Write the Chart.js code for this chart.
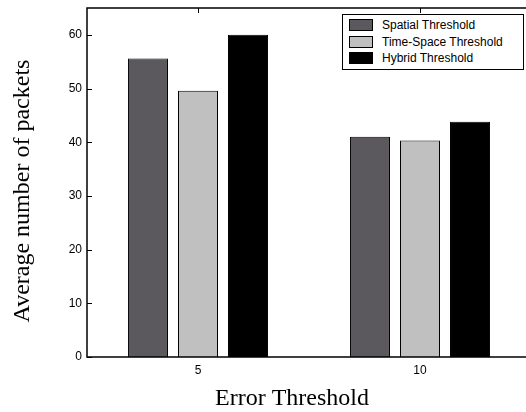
<!DOCTYPE html>
<html>
<head>
<meta charset="utf-8">
<script src="https://cdn.jsdelivr.net/npm/chart.js@4/dist/chart.umd.min.js"></script>
<style>
  html, body { margin: 0; padding: 0; background: #fff; overflow: hidden; }
  #wrap { position: relative; width: 526px; height: 412px; overflow: hidden; }
  #wrap canvas { position: absolute; left: 0; top: 0; }
  .legend {
    position: absolute; left: 342px; top: 14px; width: 182px; height: 56px;
    box-sizing: border-box; border: 1px solid #000; background: #fff;
    font: 12px "Liberation Sans", Arial, sans-serif; color: #000;
  }
  .legend .row { position: absolute; left: 6px; height: 14px; line-height: 14px; white-space: nowrap; }
  .legend .sw { display: inline-block; width: 24px; height: 12px; box-sizing: border-box;
    border: 1px solid #000; vertical-align: top; margin-top: 1px; margin-right: 9px; }
</style>
</head>
<body>
<div id="wrap">
  <canvas id="chart" width="536" height="412"></canvas>
  <div class="legend" id="legend"></div>
</div>
<script>
// ─── data
const categories = ['5', '10'];
const seriesNames = ['Spatial Threshold', 'Time-Space Threshold', 'Hybrid Threshold'];
const spatial   = [55.6, 41.0];
const timeSpace = [49.6, 40.3];
const hybrid    = [60.0, 43.8];
const yTicks = [0, 10, 20, 30, 40, 50, 60];

const colors = ['#5b595e', '#c0c0c0', '#000000'];
const seriesValues = [spatial, timeSpace, hybrid];

// frame, inward ticks and axis titles
const framePlugin = {
  id: 'frame',
  afterDraw(chart) {
    const { ctx, chartArea: a, scales } = chart;
    ctx.save();
    ctx.strokeStyle = '#000';
    ctx.lineWidth = 1.5;
    ctx.strokeRect(a.left, a.top, a.right - a.left, a.bottom - a.top);

    ctx.lineWidth = 1;
    ctx.beginPath();
    yTicks.forEach(v => {
      const y = Math.round(scales.y.getPixelForValue(v)) + 0.5;
      ctx.moveTo(a.left, y); ctx.lineTo(a.left + 5, y);
      ctx.moveTo(a.right, y); ctx.lineTo(a.right - 5, y);
    });
    categories.forEach((c, i) => {
      const x = Math.round(scales.x.getPixelForValue(i)) + 0.5;
      ctx.moveTo(x, a.top); ctx.lineTo(x, a.top + 5);
    });
    ctx.stroke();

    ctx.fillStyle = '#000';
    ctx.font = '24px "Liberation Serif", "Times New Roman", serif';
    ctx.textAlign = 'center';
    ctx.textBaseline = 'middle';
    ctx.fillText('Error Threshold', 292, 399);
    ctx.translate(23, 191);
    ctx.rotate(-Math.PI / 2);
    ctx.fillText('Average number of packets', 0, 0);
    ctx.restore();
  }
};

const ctx = document.getElementById('chart').getContext('2d');
const chart = new Chart(ctx, {
  type: 'bar',
  data: {
    labels: categories,
    datasets: seriesNames.map((name, i) => ({
      label: name,
      data: seriesValues[i],
      backgroundColor: colors[i],
      borderColor: '#000',
      borderWidth: 1,
      borderSkipped: 'bottom',
      categoryPercentage: 0.676,
      barPercentage: 0.8
    }))
  },
  options: {
    responsive: false,
    animation: false,
    layout: { padding: { left: 0, top: 8, right: 5, bottom: 0 } },
    plugins: { legend: { display: false }, tooltip: { enabled: false } },
    scales: {
      x: {
        grid: { display: false, drawTicks: false },
        border: { display: false },
        ticks: { color: '#000', padding: 6, font: { family: '"Liberation Sans", Arial, sans-serif', size: 12 } },
        afterFit(scale) { scale.height = 55; scale.paddingLeft = 0; scale.paddingRight = 0; }
      },
      y: {
        min: 0, max: 65,
        grid: { display: false, drawTicks: false },
        border: { display: false },
        afterBuildTicks(scale) { scale.ticks = yTicks.map(v => ({ value: v })); },
        ticks: { color: '#000', padding: 5, font: { family: '"Liberation Sans", Arial, sans-serif', size: 12 } },
        afterFit(scale) { scale.width = 87; scale.paddingTop = 0; scale.paddingBottom = 0; }
      }
    }
  },
  plugins: [framePlugin]
});

// legend built from the same series
const legend = document.getElementById('legend');
seriesNames.forEach((name, i) => {
  const row = document.createElement('div');
  row.className = 'row';
  row.style.top = (3 + i * 16.5) + 'px';
  row.innerHTML = '<span class="sw" style="background:' + colors[i] + '"></span>' + name;
  legend.appendChild(row);
});
</script>
</body>
</html>
